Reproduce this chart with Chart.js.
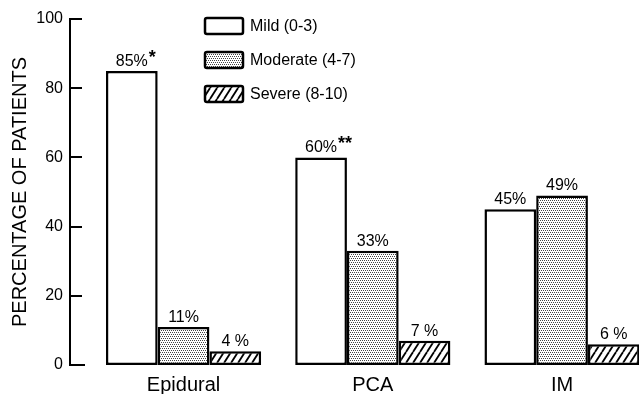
<!DOCTYPE html>
<html><head><meta charset="utf-8">
<script src="https://cdn.jsdelivr.net/npm/chart.js@4.4.1/dist/chart.umd.min.js"></script>
<style>html,body{margin:0;padding:0;background:#fff;overflow:hidden}canvas{display:block}</style>
</head><body>
<canvas id="c" width="639" height="394"></canvas>
<script>
// ---- data ----
const categories = ['Epidural', 'PCA', 'IM'];
const seriesNames = ['Mild (0-3)', 'Moderate (4-7)', 'Severe (8-10)'];
const mild = [85, 60, 45];
const moderate = [11, 33, 49];
const severe = [4, 7, 6];
const mildNotes = ['*', '**', ''];
const yTicks = [0, 20, 40, 60, 80, 100];

const FONT = "'Liberation Sans', Arial, Helvetica, sans-serif";

function stipple() {
  const t = document.createElement('canvas'); t.width = 4; t.height = 4;
  const g = t.getContext('2d');
  g.fillStyle = '#fff'; g.fillRect(0, 0, 4, 4);
  g.fillStyle = '#444';
  [[0,0],[2,0],[1,2],[3,2]].forEach(p => g.fillRect(p[0], p[1], 1, 1));
  return g.createPattern(t, 'repeat');
}
function hatch() {
  const w = 7, h = 11;
  const t = document.createElement('canvas'); t.width = w; t.height = h;
  const g = t.getContext('2d');
  g.fillStyle = '#fff'; g.fillRect(0, 0, w, h);
  g.strokeStyle = '#000'; g.lineWidth = 1.8;
  for (let k = -1; k <= 1; k++) {
    g.beginPath(); g.moveTo(k * w, h); g.lineTo(k * w + w, 0); g.stroke();
  }
  return g.createPattern(t, 'repeat');
}

const common = { borderColor: '#000', borderWidth: 2.5, borderSkipped: false, categoryPercentage: 0.82, barPercentage: 1 };

const deco = {
  id: 'deco',
  afterDraw(chart) {
    const ctx = chart.ctx, ys = chart.scales.y, area = chart.chartArea;
    ctx.save();
    // inward tick marks
    ctx.strokeStyle = '#000'; ctx.lineWidth = 2;
    yTicks.forEach(v => {
      const py = Math.round(ys.getPixelForValue(v));
      ctx.beginPath(); ctx.moveTo(area.left, py); ctx.lineTo(area.left + (v === 0 ? 15 : 12), py); ctx.stroke();
    });
    // value labels
    ctx.fillStyle = '#000'; ctx.textBaseline = 'alphabetic';
    chart.data.datasets.forEach((ds, di) => {
      const meta = chart.getDatasetMeta(di);
      meta.data.forEach((bar, i) => {
        const v = ds.data[i].y;
        const txt = v < 10 ? v + ' %' : v + '%';
        ctx.font = '16px ' + FONT; ctx.textAlign = 'center';
        ctx.fillText(txt, bar.x, bar.y - 5);
        const note = ds.notes ? ds.notes[i] : '';
        if (note) {
          const w = ctx.measureText(txt).width;
          ctx.font = 'bold 18px ' + FONT; ctx.textAlign = 'left';
          ctx.fillText(note, bar.x + w / 2 + 1, bar.y - 8);
        }
      });
    });
    // legend
    const lx = 205, ly0 = 18, step = 34, bw = 38, bh = 16;
    chart.data.datasets.forEach((ds, di) => {
      const y = ly0 + di * step;
      ctx.beginPath();
      ctx.roundRect(lx, y, bw, bh, 2);
      ctx.fillStyle = ds.backgroundColor; ctx.fill();
      ctx.lineWidth = 2.5; ctx.strokeStyle = '#000'; ctx.stroke();
      ctx.fillStyle = '#000'; ctx.font = '16px ' + FONT; ctx.textAlign = 'left'; ctx.textBaseline = 'middle';
      ctx.fillText(ds.label, lx + bw + 7, y + bh / 2 + 1);
    });
    ctx.restore();
  }
};

new Chart(document.getElementById('c'), {
  type: 'bar',
  data: {
    datasets: [
      Object.assign({ label: seriesNames[0], data: mild.map((v, i) => ({ x: i, y: v })), backgroundColor: '#fff', notes: mildNotes }, common),
      Object.assign({ label: seriesNames[1], data: moderate.map((v, i) => ({ x: i, y: v })), backgroundColor: stipple() }, common),
      Object.assign({ label: seriesNames[2], data: severe.map((v, i) => ({ x: i, y: v })), backgroundColor: hatch() }, common)
    ]
  },
  options: {
    responsive: false, animation: false,
    layout: { padding: { top: 19, right: 0, left: 0, bottom: 0 } },
    plugins: { legend: { display: false }, tooltip: { enabled: false } },
    scales: {
      x: {
        type: 'linear', offset: false, min: -0.6, max: 2.4066,
        afterBuildTicks: s => { s.ticks = categories.map((c, i) => ({ value: i })); },
        afterFit: s => { s.height = 29; },
        grid: { display: false, drawTicks: false },
        border: { display: false },
        ticks: { callback: v => categories[v], color: '#000', font: { size: 20, family: FONT }, padding: 8, maxRotation: 0, autoSkip: false }
      },
      y: {
        min: 0, max: 100,
        afterBuildTicks: s => { s.ticks = yTicks.map(v => ({ value: v })); },
        afterFit: s => { s.width = 70; },
        grid: { display: false, drawTicks: false },
        border: { display: true, color: '#000', width: 2 },
        ticks: { color: '#000', font: { size: 16, family: FONT }, padding: 7 },
        title: { display: true, text: 'PERCENTAGE OF PATIENTS', color: '#000', font: { size: 20, family: FONT, lineHeight: 1 }, padding: { top: 10, bottom: 0 } }
      }
    }
  },
  plugins: [deco]
});
</script>
</body></html>
